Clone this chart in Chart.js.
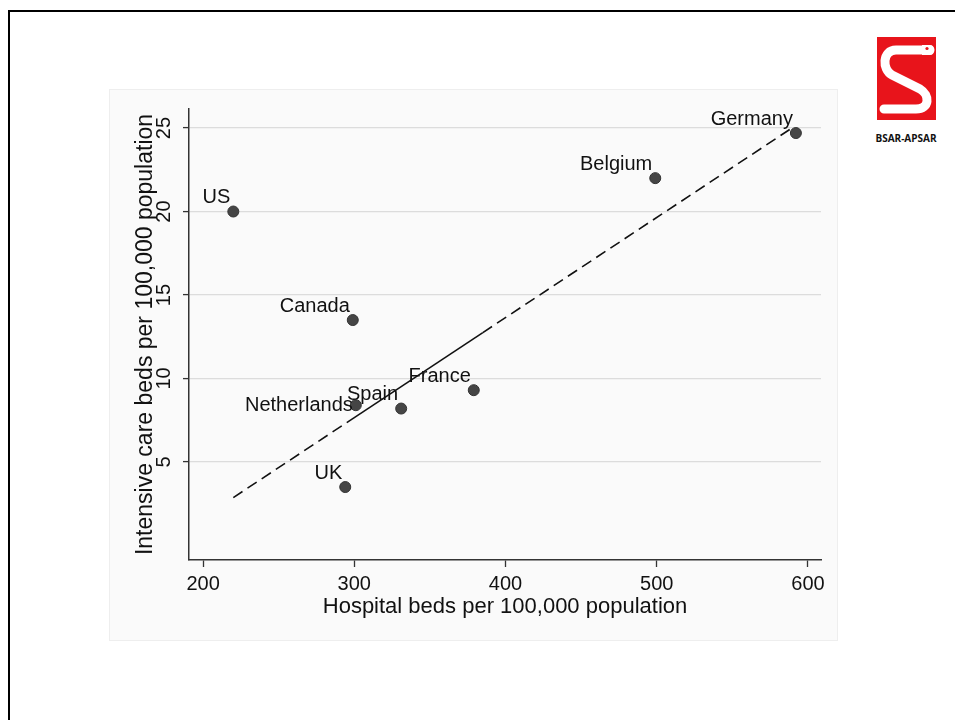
<!DOCTYPE html>
<html>
<head>
<meta charset="utf-8">
<script src="https://cdn.jsdelivr.net/npm/chart.js@4.4.1/dist/chart.umd.min.js"></script>
<style>
  html, body { margin: 0; padding: 0; background: #fff; overflow: hidden; }
  body { width: 955px; height: 720px; position: relative; font-family: "Liberation Sans", Arial, sans-serif; }
  #frame { position: absolute; left: 8px; top: 10px; width: 1000px; height: 800px; border: 2px solid #000; box-sizing: border-box; }
  #panel { position: absolute; left: 109px; top: 89px; width: 729px; height: 552px; background: #fafafa; border: 1px solid #eee; box-sizing: border-box; }
  #panel canvas { position: absolute; left: 0; top: 0; }
  #logo { position: absolute; left: 870px; top: 37px; width: 72px; }
  #logo .cap { font-family: "Open Sans", "DejaVu Sans", sans-serif; font-weight: bold; font-size: 10px; text-align: center; margin-top: 6px; color: #111; }
</style>
</head>
<body>
<div id="frame"></div>
<div id="panel"><canvas id="bedsChart" width="729" height="552"></canvas></div>
<div id="logo">
  <svg width="72" height="84" viewBox="0 0 72 84">
    <rect x="7" y="0" width="59" height="83" fill="#e8141b"/>
    <path d="M60 13 L26 13 C12 13 12 33 22 38 L50 52 C60 58 60 72 46 72 L14 72" fill="none" stroke="#fff" stroke-width="9" stroke-linecap="round" stroke-linejoin="round"/>
    <path d="M52 8 L60 8 Q64 8 64 13 Q64 18 60 18 L52 18 Z" fill="#fff"/>
    <circle cx="57" cy="11.5" r="1.6" fill="#e8141b"/>
  </svg>
  <div class="cap">BSAR-APSAR</div>
</div>
<script>
// countries and their bed counts per 100,000 population
const countries = ['US', 'Canada', 'Netherlands', 'Spain', 'France', 'UK', 'Belgium', 'Germany'];
const hospitalBeds = [220, 299, 301, 331, 379, 294, 499, 592];
const icuBeds = [20.0, 13.5, 8.4, 8.2, 9.3, 3.5, 22.0, 24.7];

// fitted line, solid only in the middle part
const fitX = [220, 295, 385, 591];
const fitY = [2.87, 7.36, 12.75, 25.1];

const xTicks = [200, 300, 400, 500, 600];
const yTicks = [5, 10, 15, 20, 25];

// label clock position for each country (9 = left, 11 = upper left)
const labelClock = [11, 11, 9, 11, 11, 11, 11, 11];

const FONT = '"Liberation Sans", Arial, sans-serif';
const INK = '#111';

const pointLabels = {
    id: 'pointLabels',
    afterDatasetsDraw(chart) {
        const meta = chart.getDatasetMeta(0);
        const ctx = chart.ctx;
        ctx.save();
        ctx.font = '20px ' + FONT;
        ctx.fillStyle = INK;
        ctx.textAlign = 'right';
        ctx.textBaseline = 'middle';
        meta.data.forEach((pt, i) => {
            const dy = labelClock[i] === 9 ? 0 : -14;
            ctx.fillText(countries[i], pt.x - 3, pt.y + dy);
        });
        ctx.restore();
    }
};

function initializeChart() {
    const ctx = document.getElementById('bedsChart').getContext('2d');
    return new Chart(ctx, {
        type: 'scatter',
        data: {
            datasets: [
                {
                    label: 'Countries',
                    data: hospitalBeds.map((x, i) => ({ x: x, y: icuBeds[i] })),
                    backgroundColor: '#454545',
                    borderColor: '#333',
                    borderWidth: 1,
                    pointRadius: 5.5,
                    order: 0
                },
                {
                    label: 'Fit',
                    type: 'line',
                    data: fitX.map((x, i) => ({ x: x, y: fitY[i] })),
                    borderColor: '#111',
                    borderWidth: 1.6,
                    pointRadius: 0,
                    fill: false,
                    segment: {
                        borderDash: c => c.p0DataIndex === 1 ? [] : [11, 6]
                    },
                    order: 1
                }
            ]
        },
        options: {
            responsive: false,
            animation: false,
            devicePixelRatio: 1,
            layout: { padding: { top: 19, right: 18, left: 0, bottom: 0 } },
            plugins: {
                legend: { display: false },
                tooltip: { enabled: false }
            },
            scales: {
                x: {
                    type: 'linear',
                    min: 190.7,
                    max: 608.6,
                    afterBuildTicks: s => { s.ticks = xTicks.map(v => ({ value: v })); },
                    afterFit: s => { s.height = 82; },
                    border: { display: true, color: '#333', width: 1.5 },
                    grid: { drawOnChartArea: false, tickLength: 7, tickColor: '#333', tickWidth: 1.3 },
                    ticks: { color: INK, font: { family: FONT, size: 20 }, padding: 5, maxRotation: 0 },
                    title: {
                        display: true,
                        text: 'Hospital beds per 100,000 population',
                        color: INK,
                        font: { family: FONT, size: 22 },
                        padding: { top: 0, bottom: 22 }
                    }
                },
                y: {
                    type: 'linear',
                    min: -0.87,
                    max: 26.14,
                    afterBuildTicks: s => { s.ticks = yTicks.map(v => ({ value: v })); },
                    afterFit: s => { s.width = 79; },
                    border: { display: true, color: '#333', width: 1.5 },
                    grid: { color: '#dcdcdc', lineWidth: 1.2, tickLength: 6, tickColor: '#333', tickWidth: 1.3 },
                    ticks: {
                        color: INK,
                        font: { family: FONT, size: 20 },
                        minRotation: 90,
                        maxRotation: 90,
                        crossAlign: 'center',
                        padding: 7
                    },
                    title: {
                        display: true,
                        text: 'Intensive care beds per 100,000 population',
                        color: INK,
                        font: { family: FONT, size: 23 },
                        padding: { top: 22, bottom: 0 }
                    }
                }
            }
        },
        plugins: [pointLabels]
    });
}

document.addEventListener('DOMContentLoaded', () => {
    initializeChart();
});
</script>
</body>
</html>
